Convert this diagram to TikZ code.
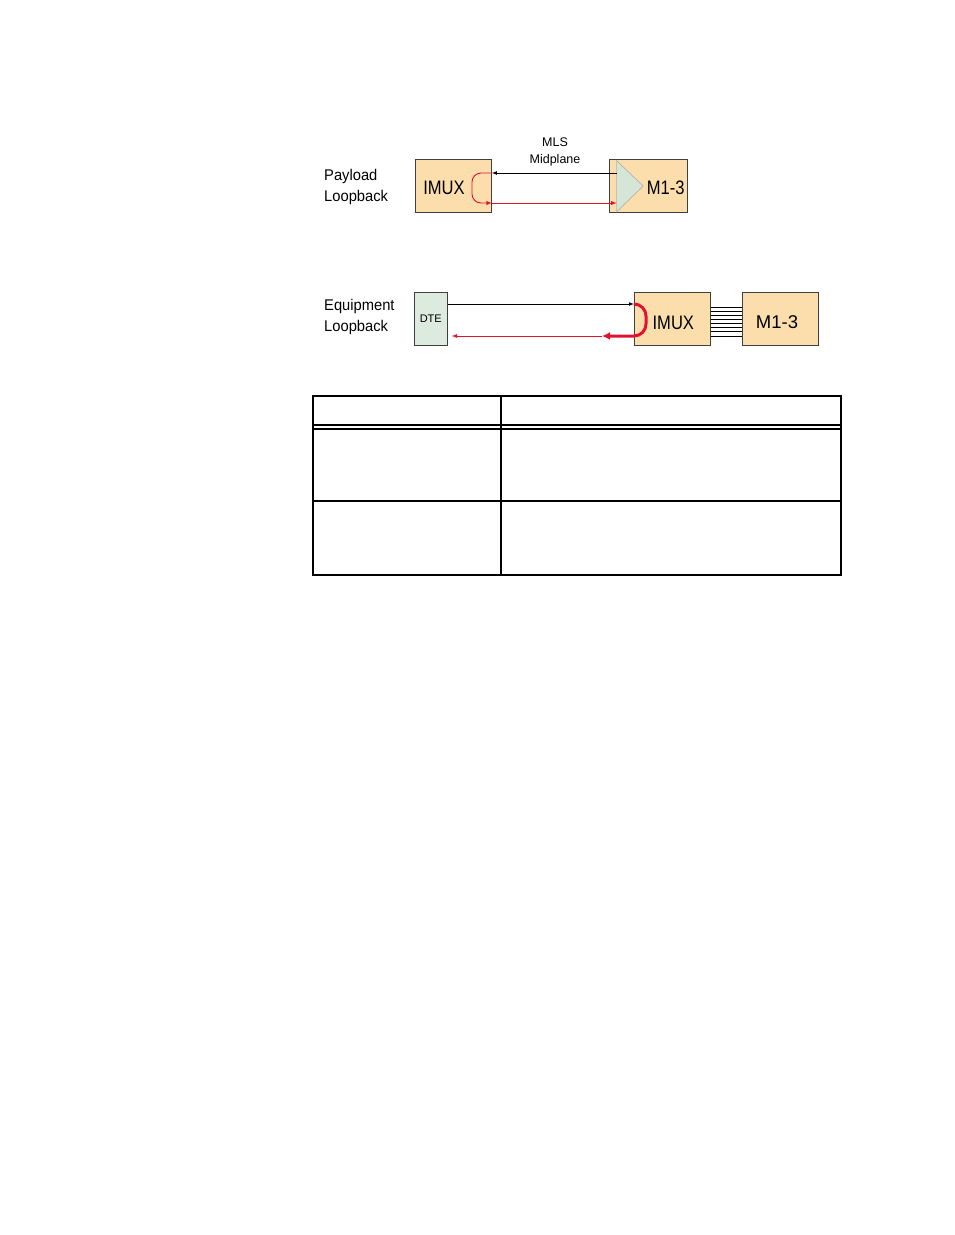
\documentclass[tikz,border=0pt]{standalone}
\usepackage{fontspec}
\setmainfont{Liberation Sans}
\newfontfamily\narrowfont[FakeStretch=0.85]{Liberation Sans}
\newfontfamily\labelfont[FakeStretch=0.95]{Liberation Sans}
\usetikzlibrary{calc,arrows.meta}
\definecolor{boxtan}{RGB}{251,222,172}
\definecolor{dtegreen}{RGB}{221,235,223}
\definecolor{trigreen}{RGB}{214,230,214}
\definecolor{loopred}{RGB}{226,18,46}
\tikzset{
  box/.style={draw=black!75,fill=boxtan,line width=0.8pt,inner sep=0pt,minimum width=76,minimum height=53},
  lbl/.style={align=left,anchor=west,inner sep=0pt,font=\labelfont\fontsize{15.5}{20.5}\selectfont},
  big/.style={font=\narrowfont\fontsize{19.5}{22}\selectfont},
  sig/.style={line width=0.7pt},
  redsig/.style={loopred,line width=0.9pt},
  grid/.style={line width=1.25pt},
}
\begin{document}
\begin{tikzpicture}[x=1pt,y=-1pt]
\useasboundingbox (0,0) rectangle (954,1235);
% payload loopback
\node[lbl] (pl) at (324,187) {Payload\\Loopback};
\node[box,big,text height=18] (imuxa) at (453.5,186) {IMUX\hspace*{19pt}};
\node[box,minimum width=78] (mt) at (648.5,186) {};
\coordinate (ta) at ($(mt.north west)+(7.5,1.5)$);
\coordinate (tb) at ($(mt.south west)+(7.5,-1)$);
\coordinate (tc) at ($(mt.west)+(34,0)$);
\filldraw[fill=trigreen,draw=black!30,line width=0.7pt] (ta) -- (tc) -- (tb) -- cycle;
\node[big,anchor=east,inner sep=0pt,text height=18] (mtt) at ($(mt.east)+(-3,0)$) {M1-3};
\node[align=center,inner sep=0pt,font=\fontsize{12.5}{17.6}\selectfont] (mls) at (555,152) {MLS\\Midplane};
\coordinate (ya) at (0,173);
\coordinate (yb) at (0,203);
\draw[sig,-latex] (ta |- ya) -- (imuxa.east |- ya);
\draw[redsig,rounded corners=9,-latex] (imuxa.east |- ya) -- (472,173) -- (472,203) -- (imuxa.east |- yb);
\draw[redsig,-latex] (imuxa.east |- yb) -- (ta |- yb);
% equipment loopback
\node[lbl] (el) at (324,317) {Equipment\\Loopback};
\node[box,fill=dtegreen,minimum width=33,font=\fontsize{11}{13}\selectfont] (dte) at (430.8,318.8) {DTE};
\node[box,big,text height=22] (imuxb) at (672.3,318.5) {\hspace*{2pt}IMUX};
\node[box,font=\fontsize{18.5}{20}\selectfont,text height=21] (mb) at (780.5,318.5) {M1-3\hspace*{7pt}};
\foreach \i in {0,...,7} \draw[line width=0.7pt] ($(imuxb.east)+(0,-11.5+4.14*\i)$) -- ($(mb.west)+(0,-11.5+4.14*\i)$);
\coordinate (yc) at (0,304);
\coordinate (yd) at (0,336);
\coordinate (rt) at (602,336);
\coordinate (dr) at ($(dte.east |- yd)+(4,0)$);
\draw[sig,-latex] (dte.east |- yc) -- (imuxb.west |- yc);
\draw[loopred,line width=3pt,rounded corners=12,-{Latex[length=8,width=8]}] (imuxb.west |- yc) -- (646,304) -- (646,336) -- (rt);
\draw[redsig,-latex] (rt) -- (dr);
% table
\draw[grid] (313,396) rectangle (841,575);
\draw[grid] (501,396) -- (501,575);
\draw[grid] (313,425) -- (841,425);
\draw[grid] (313,429) -- (841,429);
\draw[grid] (313,501) -- (841,501);
\end{tikzpicture}
\end{document}
